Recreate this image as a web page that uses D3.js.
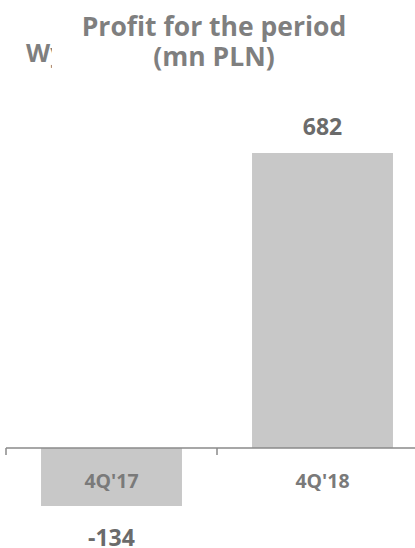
<!DOCTYPE html>
<html>
<head>
<meta charset="utf-8">
<script src="https://cdn.jsdelivr.net/npm/d3@7"></script>
<style>
  html, body { margin: 0; padding: 0; background: #fff; }
  svg { display: block; font-family: "Open Sans", sans-serif; }
</style>
</head>
<body>
<svg id="chart"></svg>
<script>
// chart data
const categories = ["4Q'17", "4Q'18"];
const values = [-134, 682];
const valueLabels = ["-134", "682"];
const titleLines = ["Profit for the period", "(mn PLN)"];

const W = 415, H = 548;
const COLORS = {
  bar: "#c8c8c8",
  axis: "#8a8a8a",
  title: "#7f7f7f",
  value: "#6b6b6b",
  cat: "#7a7a7a",
};

const svg = d3.select("#chart").attr("width", W).attr("height", H);

// x: bands run past the right edge, like the source slide
const x = d3.scaleBand()
  .domain(categories)
  .range([6, 428])
  .paddingInner(0.332)
  .paddingOuter(0.166);

const y = d3.scaleLinear()
  .domain([d3.min(values), d3.max(values)])
  .range([506, 153]);

// hidden-behind-title text fragment (clipped)
svg.append("clipPath").attr("id", "wclip")
  .append("rect").attr("x", 0).attr("y", 0).attr("width", 52).attr("height", 100);
svg.append("text")
  .attr("clip-path", "url(#wclip)")
  .attr("x", 26).attr("y", 62)
  .attr("fill", COLORS.title)
  .attr("font-size", 25).attr("font-weight", 700)
  .text("Wyniki");

// title
svg.append("g").selectAll("text")
  .data(titleLines)
  .join("text")
  .attr("x", 214)
  .attr("y", (d, i) => 36 + i * 29.5)
  .attr("text-anchor", "middle")
  .attr("fill", COLORS.title)
  .attr("font-size", 26.5)
  .attr("font-weight", 700)
  .text(d => d);

// bars
svg.append("g").selectAll("rect")
  .data(values)
  .join("rect")
  .attr("x", (d, i) => x(categories[i]))
  .attr("width", x.bandwidth())
  .attr("y", d => y(Math.max(0, d)))
  .attr("height", d => Math.abs(y(d) - y(0)))
  .attr("fill", COLORS.bar);

// axis at zero
const axis = svg.append("g")
  .attr("transform", `translate(0,${y(0)})`)
  .call(d3.axisBottom(x).tickSize(0).tickFormat(""));
axis.select(".domain").remove();
axis.append("line")
  .attr("x1", 6).attr("x2", W)
  .attr("stroke", COLORS.axis).attr("stroke-width", 1.5);
// boundary ticks between bands
const bounds = [x.range()[0], x.range()[0] + x.step()];
axis.selectAll(".bound")
  .data(bounds)
  .join("line")
  .attr("class", "bound")
  .attr("x1", d => d).attr("x2", d => d)
  .attr("y1", 0).attr("y2", 7)
  .attr("stroke", COLORS.axis).attr("stroke-width", 1.5);

// category labels
svg.append("g").selectAll("text")
  .data(categories)
  .join("text")
  .attr("x", d => x(d) + x.bandwidth() / 2)
  .attr("y", y(0) + 40)
  .attr("text-anchor", "middle")
  .attr("fill", COLORS.cat)
  .attr("font-size", 19.5)
  .attr("font-weight", 700)
  .text(d => d);

// value labels
svg.append("g").selectAll("text")
  .data(values)
  .join("text")
  .attr("x", (d, i) => x(categories[i]) + x.bandwidth() / 2)
  .attr("y", d => d >= 0 ? y(d) - 18 : y(d) + 40)
  .attr("text-anchor", "middle")
  .attr("fill", COLORS.value)
  .attr("font-size", 23)
  .attr("font-weight", 700)
  .text((d, i) => valueLabels[i]);
</script>
</body>
</html>
